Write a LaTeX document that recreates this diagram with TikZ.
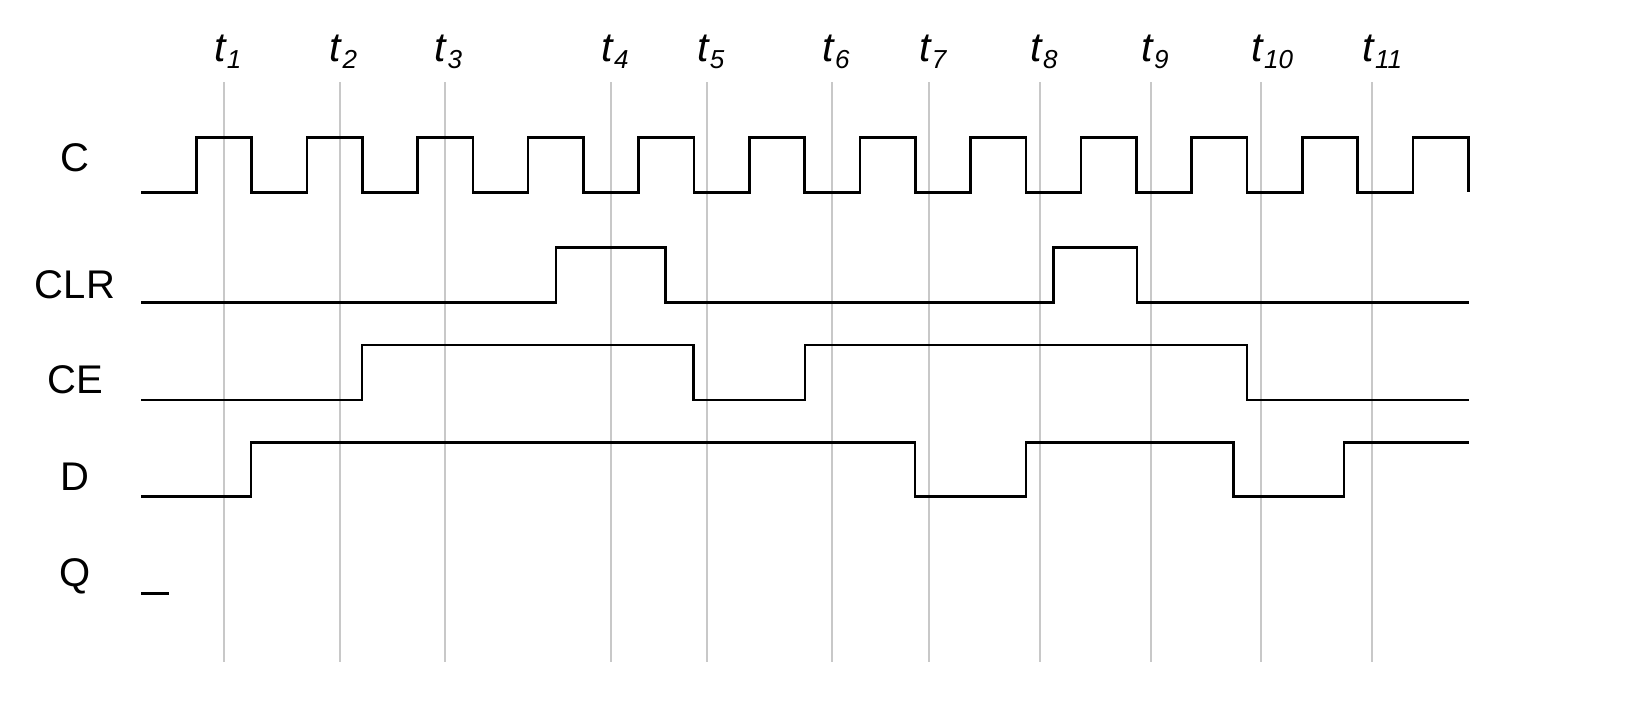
\documentclass[tikz,border=0pt]{standalone}
\usepackage{fontspec}
\setmainfont{Liberation Sans}
\usetikzlibrary{positioning}
\definecolor{tgrid}{RGB}{200,200,200}
\newcommand{\tsub}[1]{\raisebox{-3.4pt}{\fontsize{13}{15}\selectfont\itshape #1}}
\tikzset{every picture/.style={line width=1.3pt}}

\begin{document}
\begin{tikzpicture}[x=0.5pt, y=-0.5pt, sig/.style={font=\fontsize{20}{24}\selectfont, inner sep=0pt, anchor=base}, tlab/.style={font=\fontsize{20.5}{24}\selectfont, inner sep=0pt, anchor=base west}, tick/.style={draw=tgrid, line width=0.9pt}, wave/.style={line width=1.3pt}]
\useasboundingbox (0,0) rectangle (1634,708);
\foreach \i/\x in {1/223.8, 2/339.6, 3/444.6, 4/611, 5/706.8, 6/832, 7/928.7, 8/1040, 9/1151, 10/1261, 11/1372} {
\coordinate (top\i) at (\x,82);
\coordinate (bot\i) at (\x,662);
\draw[tick] (top\i) -- (bot\i);
\node (t\i) at (\x-11,61.7) [tlab] {\textit{t}\tsub{\i}};
}
\foreach \s/\y in {C/171.7, CLR/298, CE/393.3, D/490, Q/586.7} {
\node (n\s) at (75,\y) [sig] {\s};
}
\draw[wave] (141,192.3) foreach \k in {1,...,12} { -| ({141+(2*\k-1)*55.3},137.3) -| ({141+2*\k*55.3},192.3) };
\draw[wave] (141,302.7) -| (556,247.7) -| (665.7,302.7) -| (1053.6,247.7) -| (1136.9,302.7) -- (1469,302.7);
\draw[wave] (141,400) -| (361.8,345) -| (693.7,400) -| (805,345) -| (1247,400) -- (1469,400);
\draw[wave] (141,496.7) -| (251,442.3) -| (915,496.7) -| (1026,442.3) -| (1233.7,496.7) -| (1344,442.3) -- (1469,442.3);
\draw[wave] (141,593.7) -- (168.6,593.7);
\end{tikzpicture}
\end{document}
